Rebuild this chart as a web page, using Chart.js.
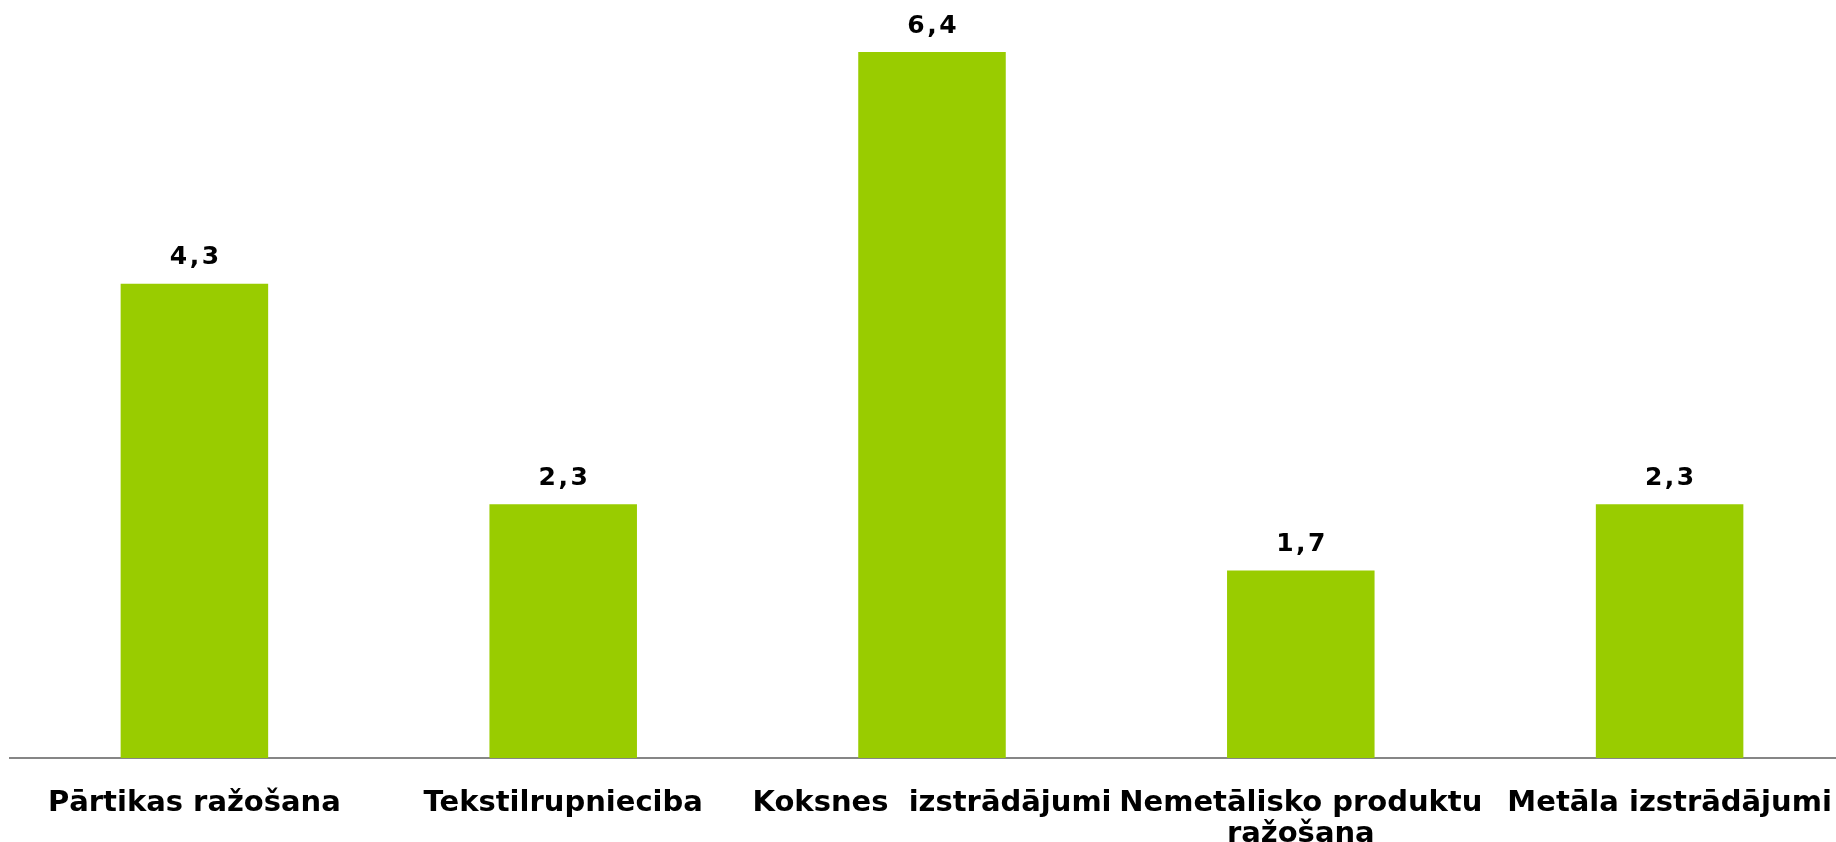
<!DOCTYPE html>
<html>
<head>
<meta charset="utf-8">
<script src="https://cdn.jsdelivr.net/npm/chart.js@4/dist/chart.umd.min.js"></script>
<style>
  html, body { margin: 0; padding: 0; background: #ffffff; overflow: hidden; }
  #wrap { position: relative; width: 1856px; height: 842px; }
</style>
</head>
<body>
<div id="wrap"><canvas id="chart"></canvas></div>
<script>
const categories = [
  'Pārtikas ražošana',
  'Tekstilrupnieciba',
  'Koksnes  izstrādājumi',
  ['Nemetālisko produktu', 'ražošana'],
  'Metāla izstrādājumi'
]
const values = [4.3, 2.3, 6.4, 1.7, 2.3]

const barColor = '#99cc00'
const axisColor = '#868686'
const labelFont = '"DejaVu Sans", Verdana, sans-serif'

// value labels above bars, comma as decimal mark
const valueLabels = {
  id: 'valueLabels',
  afterDatasetsDraw(chart) {
    const ctx = chart.ctx
    const meta = chart.getDatasetMeta(0)
    ctx.save()
    ctx.fillStyle = '#000000'
    ctx.font = 'bold 25px ' + labelFont
    ctx.textAlign = 'center'
    ctx.textBaseline = 'middle'
    meta.data.forEach(function (bar, i) {
      const txt = values[i].toFixed(1).replace('.', ',').split('').join(String.fromCharCode(8202))
      ctx.fillText(txt, bar.x, bar.y - 26)
    })
    ctx.restore()
  }
}

new Chart(document.getElementById('chart').getContext('2d'), {
  type: 'bar',
  data: {
    labels: categories,
    datasets: [{
      data: values,
      backgroundColor: barColor,
      borderWidth: 0,
      barPercentage: 0.5,
      categoryPercentage: 0.8
    }]
  },
  options: {
    responsive: true,
    maintainAspectRatio: false,
    animation: false,
    layout: { padding: { left: 10, right: 2, top: 8, bottom: 0 } },
    scales: {
      x: {
        grid: { display: false },
        border: { display: true, color: axisColor, width: 2 },
        ticks: {
          color: '#000000',
          font: { family: labelFont, size: 29, weight: 'bold', lineHeight: 1.07 },
          padding: 22,
          maxRotation: 0,
          autoSkip: false
        },
        afterFit: function (scale) { scale.height = 84 }
      },
      y: {
        display: false,
        min: 0,
        max: 6.8
      }
    },
    plugins: {
      legend: { display: false },
      tooltip: { enabled: false }
    }
  },
  plugins: [valueLabels]
})
</script>
</body>
</html>
